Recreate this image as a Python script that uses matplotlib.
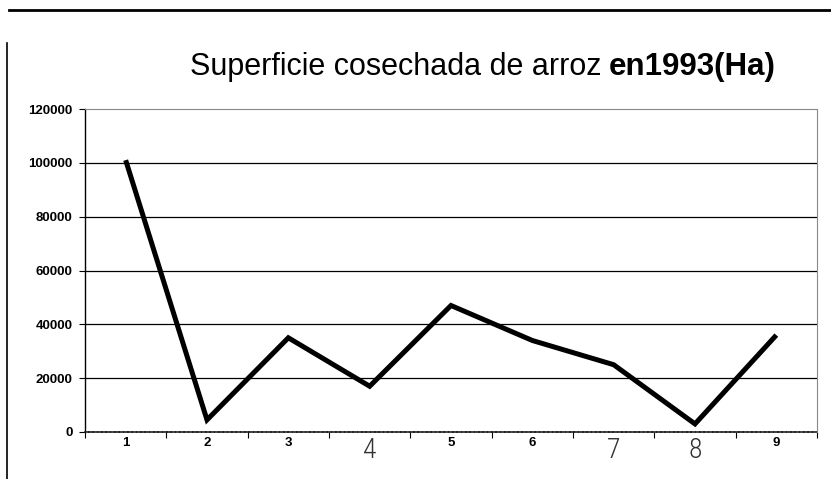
import numpy as np
import matplotlib
matplotlib.use('Agg')
import matplotlib.pyplot as plt
from matplotlib.lines import Line2D
from matplotlib.ticker import FixedLocator

# Datos
categorias = [1, 2, 3, 4, 5, 6, 7, 8, 9]
superficie = [101000, 4500, 35000, 17000, 47000, 34000, 25000, 3000, 36000]
yticks = [0, 20000, 40000, 60000, 80000, 100000, 120000]
titulo_normal = 'Superficie cosechada de arroz'
titulo_negrita = 'en1993(Ha)'
etiquetas_raras = [4, 7, 8]  # estas salen con otra letra en el original

W, H = 831, 479
fig = plt.figure(figsize=(W / 100, H / 100), dpi=100)
fig.patch.set_facecolor('white')

ax = fig.add_axes([85 / W, (H - 432) / H, (817 - 85) / W, (432 - 109) / H])

# lineas de cuadricula (sin 0 ni 120000, que son los bordes)
for v in yticks[1:-1]:
    ax.axhline(v, color='black', linewidth=0.9, zorder=1)

ax.plot(categorias, superficie, color='black', linewidth=3.6,
        solid_joinstyle='miter', solid_capstyle='butt', zorder=3)

ax.set_xlim(0.5, 9.5)
ax.set_ylim(0, 120000)

# ejes
ax.spines['top'].set_color('#8a8a8a')
ax.spines['top'].set_linestyle((0, (1.2, 0.8)))
ax.spines['right'].set_color('#8a8a8a')
ax.spines['right'].set_linestyle((0, (1.2, 0.8)))
ax.spines['bottom'].set_color('#222222')
ax.spines['bottom'].set_linestyle((0, (2, 0.6)))
ax.spines['bottom'].set_linewidth(1.2)
ax.spines['left'].set_color('black')
ax.spines['left'].set_linewidth(1.0)

ax.set_yticks(yticks)
ax.set_yticklabels([str(v) for v in yticks])
ax.tick_params(axis='y', direction='out', length=4, width=0.8, pad=5,
               labelsize=9.5, colors='black')
for lab in ax.get_yticklabels():
    lab.set_fontfamily('Liberation Sans')
    lab.set_fontweight('bold')

ax.set_xticks(categorias)
ax.xaxis.set_minor_locator(FixedLocator(np.arange(0.5, 10, 1.0)))
ax.tick_params(axis='x', which='major', length=0, pad=3.5, labelsize=9.5)
ax.tick_params(axis='x', which='minor', direction='out', length=4, width=0.8)
ax.set_xticklabels([str(c) for c in categorias])
for c, lab in zip(categorias, ax.get_xticklabels()):
    if c in etiquetas_raras:
        lab.set_fontfamily(['Roboto Condensed', 'Liberation Sans Narrow', 'DejaVu Sans'])
        lab.set_fontweight('light')
        lab.set_fontsize(20)
        lab.set_color('#333333')
        lab.set_verticalalignment('top')
    else:
        lab.set_fontfamily('Liberation Sans')
        lab.set_fontweight('bold')
        lab.set_color('black')

# titulo en dos partes (normal + negrita)
t1 = fig.text(190 / W, (H - 75) / H, titulo_normal, fontsize=22,
              family='Liberation Sans', va='baseline', ha='left')
fig.canvas.draw()
bb = t1.get_window_extent(renderer=fig.canvas.get_renderer())
fig.text((bb.x1 + 7) / W, (H - 75) / H, titulo_negrita, fontsize=22.5,
         family='Liberation Sans', fontweight='bold', va='baseline', ha='left')

# lineas del marco de la pagina
fig.add_artist(Line2D([9 / W, 1.0], [(H - 10) / H, (H - 10) / H],
                      color='black', linewidth=2.0, transform=fig.transFigure))
fig.add_artist(Line2D([6.5 / W, 6.5 / W], [(H - 43) / H, 0],
                      color='black', linewidth=1.2, transform=fig.transFigure))

fig.savefig('out.png', dpi=100)
